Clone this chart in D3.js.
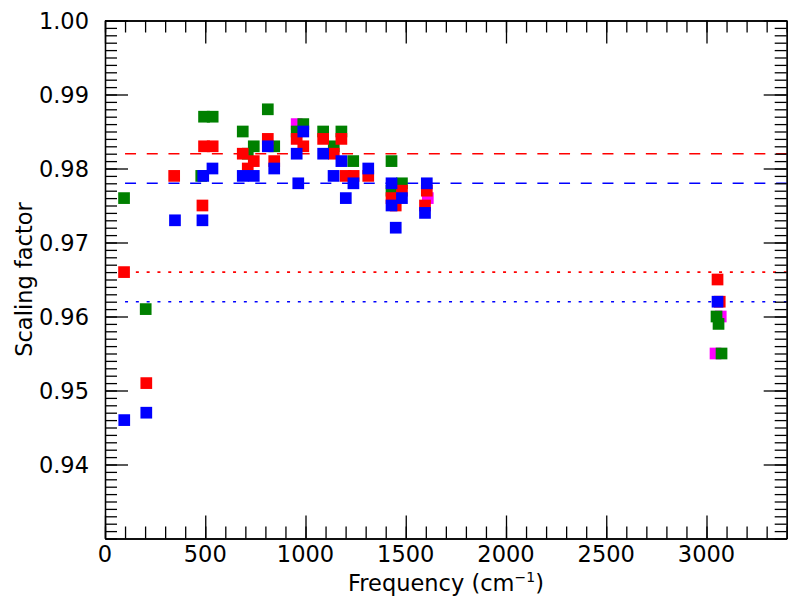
<!DOCTYPE html>
<html>
<head>
<meta charset="utf-8">
<script src="https://cdn.jsdelivr.net/npm/d3@7"></script>
<style>
  body { margin: 0; background: #fff; }
  svg text { font-family: "DejaVu Sans", sans-serif; fill: #000; }
  .axis path, .axis line { stroke: #000; stroke-width: 1.3; }
</style>
</head>
<body>
<script>
// data: [frequency cm-1, scaling factor]
var magentaPts = [[956,0.986],[1610,0.976],[3071,0.960],[3045,0.955]];
var greenPts = [[95,0.976],[203,0.961],[480,0.979],[494,0.987],[537,0.987],[687,0.985],[712,0.982],[742,0.983],
  [812,0.988],[844,0.983],[956,0.985],[989,0.986],[1088,0.985],[1141,0.983],[1179,0.985],[1238,0.981],
  [1429,0.981],[1429,0.977],[1481,0.978],[3050,0.960],[3060,0.959],[3075,0.955]];
var redPts = [[95,0.966],[206,0.951],[345,0.979],[486,0.975],[494,0.983],[537,0.983],[687,0.982],[712,0.980],
  [742,0.981],[812,0.984],[844,0.981],[956,0.984],[989,0.983],[1088,0.984],[1141,0.982],[1179,0.984],
  [1200,0.979],[1240,0.979],[1313,0.979],[1429,0.976],[1450,0.975],[1481,0.977],[1605,0.977],[1596,0.975],
  [3055,0.965],[3066,0.962]];
var bluePts = [[96,0.946],[206,0.947],[349,0.973],[486,0.973],[490,0.979],[536,0.980],[687,0.979],[742,0.979],
  [812,0.983],[844,0.980],[956,0.982],[964,0.978],[989,0.985],[1088,0.982],[1140,0.979],[1179,0.981],
  [1201,0.976],[1239,0.978],[1313,0.980],[1429,0.978],[1429,0.975],[1450,0.972],[1481,0.976],[1605,0.978],
  [1596,0.974],[3055,0.962]];

// horizontal reference lines
var refValues = [0.982, 0.978, 0.966, 0.962];
var refColors = ["#ff0000", "#0000ff", "#ff0000", "#0000ff"];
var refStyles = ["dashed", "dashed", "dotted", "dotted"];
var refStart = 100;

var xTicks = [0, 500, 1000, 1500, 2000, 2500, 3000];
var yTicks = [0.94, 0.95, 0.96, 0.97, 0.98, 0.99, 1.00];

var plotL = 105, plotR = 786.7, plotT = 20.5, plotB = 538.5;

var svg = d3.select("body").append("svg")
    .attr("width", 800)
    .attr("height", 609);

var x = d3.scaleLinear().domain([0, 3400]).range([plotL, plotR]);
var y = d3.scaleLinear().domain([0.93, 1.00]).range([plotB, plotT]);

// reference lines
refValues.forEach(function(v, i){
  svg.append("line")
    .attr("x1", x(refStart)).attr("x2", x(3400))
    .attr("y1", y(v)).attr("y2", y(v))
    .attr("stroke", refColors[i])
    .attr("stroke-width", 1.6)
    .attr("stroke-dasharray", refStyles[i] == "dashed" ? "11,10.7" : "3,7.8");
});

// squares, drawn back to front
var sq = 11.7;
var series = [[magentaPts, "#ff00ff"], [greenPts, "#008000"], [redPts, "#ff0000"], [bluePts, "#0000ff"]];
series.forEach(function(s){
  svg.append("g").selectAll("rect")
    .data(s[0])
    .enter().append("rect")
    .attr("x", function(d){ return x(d[0]) - sq/2; })
    .attr("y", function(d){ return y(d[1]) - sq/2; })
    .attr("width", sq)
    .attr("height", sq)
    .attr("fill", s[1]);
});

// axes: minor ticks first, then labelled major ticks, mirrored on top and right
var xMinor = d3.range(0, 3401, 100);
var yMinor = d3.range(0, 71).map(function(i){ return 0.93 + i*0.001; });
var majorLen = 23, minorLen = 12;

svg.append("g").attr("class", "axis").attr("transform", "translate(0,"+plotB+")")
  .call(d3.axisTop(x).tickValues(xMinor).tickSize(minorLen).tickFormat("").tickSizeOuter(0));
svg.append("g").attr("class", "axis").attr("transform", "translate(0,"+plotB+")")
  .call(d3.axisTop(x).tickValues(xTicks).tickSize(majorLen).tickFormat("").tickSizeOuter(0));
svg.append("g").attr("class", "axis").attr("transform", "translate(0,"+plotT+")")
  .call(d3.axisBottom(x).tickValues(xMinor).tickSize(minorLen).tickFormat("").tickSizeOuter(0));
svg.append("g").attr("class", "axis").attr("transform", "translate(0,"+plotT+")")
  .call(d3.axisBottom(x).tickValues(xTicks).tickSize(majorLen).tickFormat("").tickSizeOuter(0));

svg.append("g").attr("class", "axis").attr("transform", "translate("+plotL+",0)")
  .call(d3.axisRight(y).tickValues(yMinor).tickSize(minorLen).tickFormat("").tickSizeOuter(0));
svg.append("g").attr("class", "axis").attr("transform", "translate("+plotL+",0)")
  .call(d3.axisRight(y).tickValues(yTicks).tickSize(majorLen).tickFormat("").tickSizeOuter(0));
svg.append("g").attr("class", "axis").attr("transform", "translate("+plotR+",0)")
  .call(d3.axisLeft(y).tickValues(yMinor).tickSize(minorLen).tickFormat("").tickSizeOuter(0));
svg.append("g").attr("class", "axis").attr("transform", "translate("+plotR+",0)")
  .call(d3.axisLeft(y).tickValues(yTicks).tickSize(majorLen).tickFormat("").tickSizeOuter(0));

// tick labels
svg.append("g").selectAll("text")
  .data(xTicks)
  .enter().append("text")
  .attr("x", function(d){ return x(d); })
  .attr("y", 562)
  .attr("text-anchor", "middle")
  .style("font-size", "22.5px")
  .text(function(d){ return d; });
svg.append("g").selectAll("text")
  .data(yTicks)
  .enter().append("text")
  .attr("x", 89)
  .attr("y", function(d){ return y(d) + 8; })
  .attr("text-anchor", "end")
  .style("font-size", "22.5px")
  .text(function(d){ return d3.format(".2f")(d); });

// axis titles
var xt = svg.append("text")
  .attr("x", 446).attr("y", 591)
  .attr("text-anchor", "middle")
  .style("font-size", "22.5px");
xt.append("tspan").text("Frequency (cm");
xt.append("tspan").attr("dy", -9).style("font-size", "14px").text("\u22121");
xt.append("tspan").attr("dy", 9).text(")");

svg.append("text")
  .attr("transform", "translate(32,"+(plotT+plotB)/2+") rotate(-90)")
  .attr("text-anchor", "middle")
  .style("font-size", "22.5px")
  .text("Scaling factor");
</script>
</body>
</html>
